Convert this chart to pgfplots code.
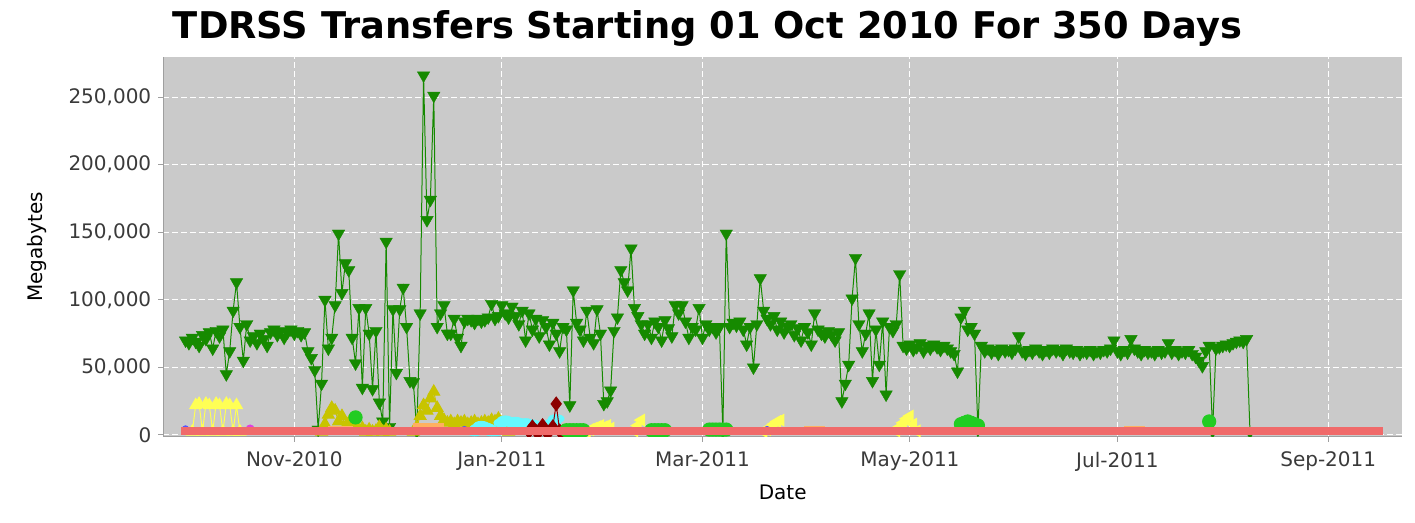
\documentclass[border=0pt]{standalone}
\usepackage{fontspec}
\setmainfont{DejaVu Sans}
\usepackage{pgfplots}
\usepackage{pgfplotstable}
\pgfplotsset{compat=1.18}
\definecolor{bggray}{HTML}{CACACA}
\definecolor{tdgreen}{HTML}{168A00}
\definecolor{tdred}{HTML}{F06A6A}
\definecolor{tdyellow}{HTML}{FFFF55}
\definecolor{tdolive}{HTML}{C8C400}
\definecolor{tdcyan}{HTML}{66F8FF}
\definecolor{tddarkred}{HTML}{8C0000}
\definecolor{tdlime}{HTML}{22CC22}
\definecolor{tdorange}{HTML}{FFB060}
\definecolor{tdmagenta}{HTML}{E040E0}
\definecolor{tdblue}{HTML}{5555FF}
\definecolor{labelgray}{HTML}{3A3A3A}

% day = days after 01 Oct 2010
\pgfplotstableread{
day mb
-1 70000
0 68000
1 72000
2 69000
3 66000
4 74000
5 71000
6 76000
7 64000
8 77000
9 73000
10 78000
11 45000
12 62000
13 92000
14 113000
15 80000
16 55000
17 82000
18 70000
19 73000
20 68000
21 75000
22 71000
23 66000
24 76000
25 78000
26 74000
27 77000
28 72000
29 76000
30 78000
31 75000
32 77000
33 74000
34 76000
35 62000
36 57000
37 48000
38 4000
39 38000
40 100000
41 64000
42 72000
43 96000
44 149000
45 105000
46 127000
47 122000
48 72000
49 53000
50 94000
51 35000
52 94000
53 75000
54 34000
55 77000
56 24000
57 10000
58 143000
59 6000
60 93000
61 46000
62 93000
63 109000
64 80000
65 40000
66 39000
67 3000
68 90000
69 266000
70 159000
71 174000
72 251000
73 80000
74 90000
75 96000
76 75000
77 75000
78 86000
79 72000
80 66000
81 84000
82 86000
83 85000
84 83000
85 86000
86 84000
87 85000
88 87000
89 97000
90 86000
91 88000
92 96000
93 90000
94 87000
95 95000
96 88000
97 82000
98 92000
99 70000
100 90000
101 78000
102 86000
103 73000
104 85000
105 80000
106 67000
107 83000
108 75000
109 62000
110 80000
111 78000
112 22000
113 107000
114 83000
115 78000
116 70000
117 92000
118 72000
119 68000
120 93000
121 75000
122 23000
123 25000
124 33000
125 77000
126 87000
127 122000
128 113000
129 107000
130 138000
131 94000
132 88000
133 82000
134 75000
135 82000
136 72000
137 84000
138 80000
139 70000
140 85000
141 79000
142 73000
143 96000
144 90000
145 96000
146 84000
147 72000
148 80000
149 78000
150 94000
151 72000
152 82000
153 78000
154 80000
155 76000
156 80000
157 3000
158 149000
159 80000
160 83000
161 81000
162 84000
163 78000
164 67000
165 80000
166 50000
167 82000
168 116000
169 92000
170 86000
171 82000
172 88000
173 78000
174 84000
175 76000
176 80000
177 82000
178 74000
179 79000
180 70000
181 80000
182 76000
183 67000
184 90000
185 78000
186 75000
187 73000
188 77000
189 74000
190 70000
191 76000
192 25000
193 38000
194 52000
195 101000
196 131000
197 82000
198 62000
199 75000
200 90000
201 40000
202 78000
203 52000
204 84000
205 30000
206 80000
207 77000
208 82000
209 119000
210 66000
211 64000
212 67000
213 63000
214 65000
215 68000
216 62000
217 66000
218 64000
219 67000
220 65000
221 63000
222 66000
223 64000
224 62000
225 60000
226 47000
227 87000
228 92000
229 78000
230 80000
231 75000
232 4000
233 66000
234 62000
235 64000
236 61000
237 63000
238 60000
239 64000
240 62000
241 63000
242 61000
243 64000
244 73000
245 62000
246 60000
247 63000
248 61000
249 64000
250 62000
251 60000
252 63000
253 61000
254 64000
255 62000
256 63000
257 60000
258 64000
259 62000
260 61000
261 63000
262 60000
263 62000
264 61000
265 63000
266 60000
267 62000
268 61000
269 63000
270 62000
271 64000
272 70000
273 62000
274 60000
275 63000
276 61000
277 71000
278 64000
279 62000
280 60000
281 63000
282 61000
283 62000
284 60000
285 63000
286 61000
287 62000
288 68000
289 61000
290 63000
291 60000
292 62000
293 61000
294 63000
295 60000
296 58000
297 55000
298 51000
299 62000
300 66000
301 3000
302 64000
303 65000
304 66000
305 67000
306 66000
307 68000
308 69000
309 70000
310 69000
311 71000
312 2500
}\greendata

\begin{document}
\begin{tikzpicture}[x=1pt,y=1pt]
\useasboundingbox (0,0) rectangle (707.5,261.5);
\node[anchor=base, font=\fontsize{18.4}{22}\selectfont\bfseries] at (353.75,242) {TDRSS Transfers Starting 01 Oct 2010 For 350 Days};
\begin{axis}[
 at={(81.65pt,43pt)}, anchor=south west,
 scale only axis, width=619.35pt, height=190pt,
 xmin=-7.53, xmax=356.7, ymin=-1480, ymax=279600,
 scaled y ticks=false, scaled x ticks=false,
 clip marker paths=true,
 axis background/.style={fill=bggray},
 axis x line*=bottom, axis y line*=left,
 axis line style={draw=gray!75, line width=0.5pt},
 tick align=outside, major tick length=2.5pt,
 tick style={draw=gray!75, line width=0.5pt},
 xtick={31,92,151,212,273,335},
 xticklabels={Nov-2010,Jan-2011,Mar-2011,May-2011,Jul-2011,Sep-2011},
 ytick={0,50000,100000,150000,200000,250000},
 yticklabels={0,{50,000},{100,000},{150,000},{200,000},{250,000}},
 ticklabel style={font=\fontsize{10}{12}\selectfont, text=labelgray},
 xticklabel style={yshift=-1.5pt},
 grid=major,
 major grid style={white, line width=0.5pt, dash pattern=on 3pt off 1.5pt},
 xlabel={Date}, ylabel={Megabytes},
 label style={font=\fontsize{12}{14}\selectfont, text=labelgray},
 every axis x label/.style={at={(axis description cs:0.5,-0.1447)}, anchor=center},
 every axis y label/.style={at={(axis description cs:-0.1017,0.5)}, anchor=center, rotate=90},
 unbounded coords=jump,
]
% main series (dark green, down triangles)
\addplot[color=tdgreen, line width=0.5pt, mark=triangle*, mark size=3.6pt,
  mark options={rotate=180, fill=tdgreen, draw=tdgreen, line width=0.2pt}]
  table[x=day, y=mb] {\greendata};
% yellow up triangles
\addplot[color=tdyellow, line width=0.5pt, mark=triangle*, mark size=3.4pt,
  mark options={fill=tdyellow, draw=tdyellow}]
  coordinates {(1,2500) (2,22000) (3,23000) (4,2500) (5,23000) (6,22000) (7,2500) (8,23000) (9,22000) (10,2500) (11,23000) (12,22000) (13,2500) (14,22000) (15,2500)};
% olive up triangles
\addplot[color=tdolive, line width=0.5pt, mark=triangle*, mark size=3.4pt,
  mark options={fill=tdolive, draw=tdolive}]
  coordinates {(39,2500) (40,8000) (41,15000) (42,20000) (43,18000) (44,10000) (45,14000) (46,6000) (47,9000) (48,4000) (49,8000) (50,3000) (51,5000) (52,2500) (53,4000) (54,2500) (55,3000) (56,6000) (57,2500) (58,4000) (59,2500)
   (59,nan)
   (66,2500) (67,6000) (68,14000) (69,22000) (70,18000) (71,27000) (72,32000) (73,20000) (74,14000) (75,11000) (76,9000) (77,10000) (78,8000) (79,10000) (80,9000) (81,10000) (82,8000) (83,9000) (84,10000) (85,8000) (86,9000) (87,10000) (88,9000) (89,11000) (90,10000) (91,12000) (92,9000) (93,3000) (94,2500)};
% orange horizontal rectangles
\addplot[color=tdorange, line width=0.5pt, mark=square*, mark size=2.4pt,
  mark options={fill=tdorange, draw=tdorange, yscale=0.6, xscale=1.4}]
  coordinates {(43,4500) (44,4500) (45,4000) (46,4500) (46,nan)
   (68,6000) (69,6500) (70,6500) (71,6000) (72,6500) (73,6000) (73,nan)
   (183,4000) (184,4000) (185,4000) (185,nan)
   (277,4000) (278,4000) (279,4000)};
% cyan horizontal ellipses
\addplot[color=tdcyan, line width=0.5pt, mark=*, mark size=2.6pt,
  mark options={fill=tdcyan, draw=tdcyan, xscale=1.5, yscale=0.8}]
  coordinates {(84,2500) (85,5000) (86,7000) (87,6000) (88,5000) (89,2500) (90,2500) (91,3000) (92,9000) (93,11000) (94,10000) (95,9000) (96,10000) (97,9000) (98,8000) (99,9000) (100,7000) (101,8000) (102,6000) (103,5000) (104,4000) (105,3000) (106,5000) (107,9000) (108,12000) (109,4000) (110,2500)};
% dark red diamonds
\addplot[color=tddarkred, line width=0.5pt, mark=diamond*, mark size=3.4pt,
  mark options={fill=tddarkred, draw=tddarkred}]
  coordinates {(100,2500) (101,6000) (102,3000) (103,2500) (104,7000) (105,2500) (106,2500) (107,6000) (108,23000) (109,3000) (110,2500)};
% yellow left triangles
\addplot[color=tdyellow, line width=0.5pt, mark=triangle*, mark size=3.3pt,
  mark options={rotate=90, fill=tdyellow, draw=tdyellow}]
  coordinates {(117,2500) (118,4000) (119,5000) (120,6000) (121,7000) (122,6000) (123,7000) (124,5000) (124,nan)
   (131,3000) (132,7000) (133,11000) (133,nan)
   (169,2500) (170,4000) (171,6000) (172,8000) (173,10000) (174,11000) (174,nan)
   (208,3000) (209,6000) (210,9000) (211,12000) (212,14000) (213,8000) (214,3000)};
% bright green circles
\addplot[color=tdlime, line width=0.5pt, mark=*, mark size=3.3pt,
  mark options={fill=tdlime, draw=tdlime}]
  coordinates {(49,13000) (49,nan)
   (111,3500) (112,3500) (113,3500) (114,3500) (115,3500) (116,3500) (116,nan)
   (136,3500) (137,3500) (138,3500) (139,3500) (140,3500) (140,nan)
   (153,4000) (154,4000) (155,4000) (156,4000) (157,4000) (158,4000) (158,nan)
   (227,8000) (228,9000) (229,10000) (230,9000) (231,8000) (232,7000) (232,nan)
   (300,10000)};
% magenta and blue small points
\addplot[only marks, mark=*, mark size=2pt, color=tdmagenta] coordinates {(18,4500)};
\addplot[only marks, mark=*, mark size=1.6pt, color=tdblue] coordinates {(-1,4500) (81,4000) (170,4000)};
% red series along the bottom
\addplot[color=tdred, line width=4.1pt, line cap=rect, mark=none]
  coordinates {(-1,3000) (100,3000) (200,3000) (300,3000) (350,3000)};
\end{axis}
\end{tikzpicture}
\end{document}
